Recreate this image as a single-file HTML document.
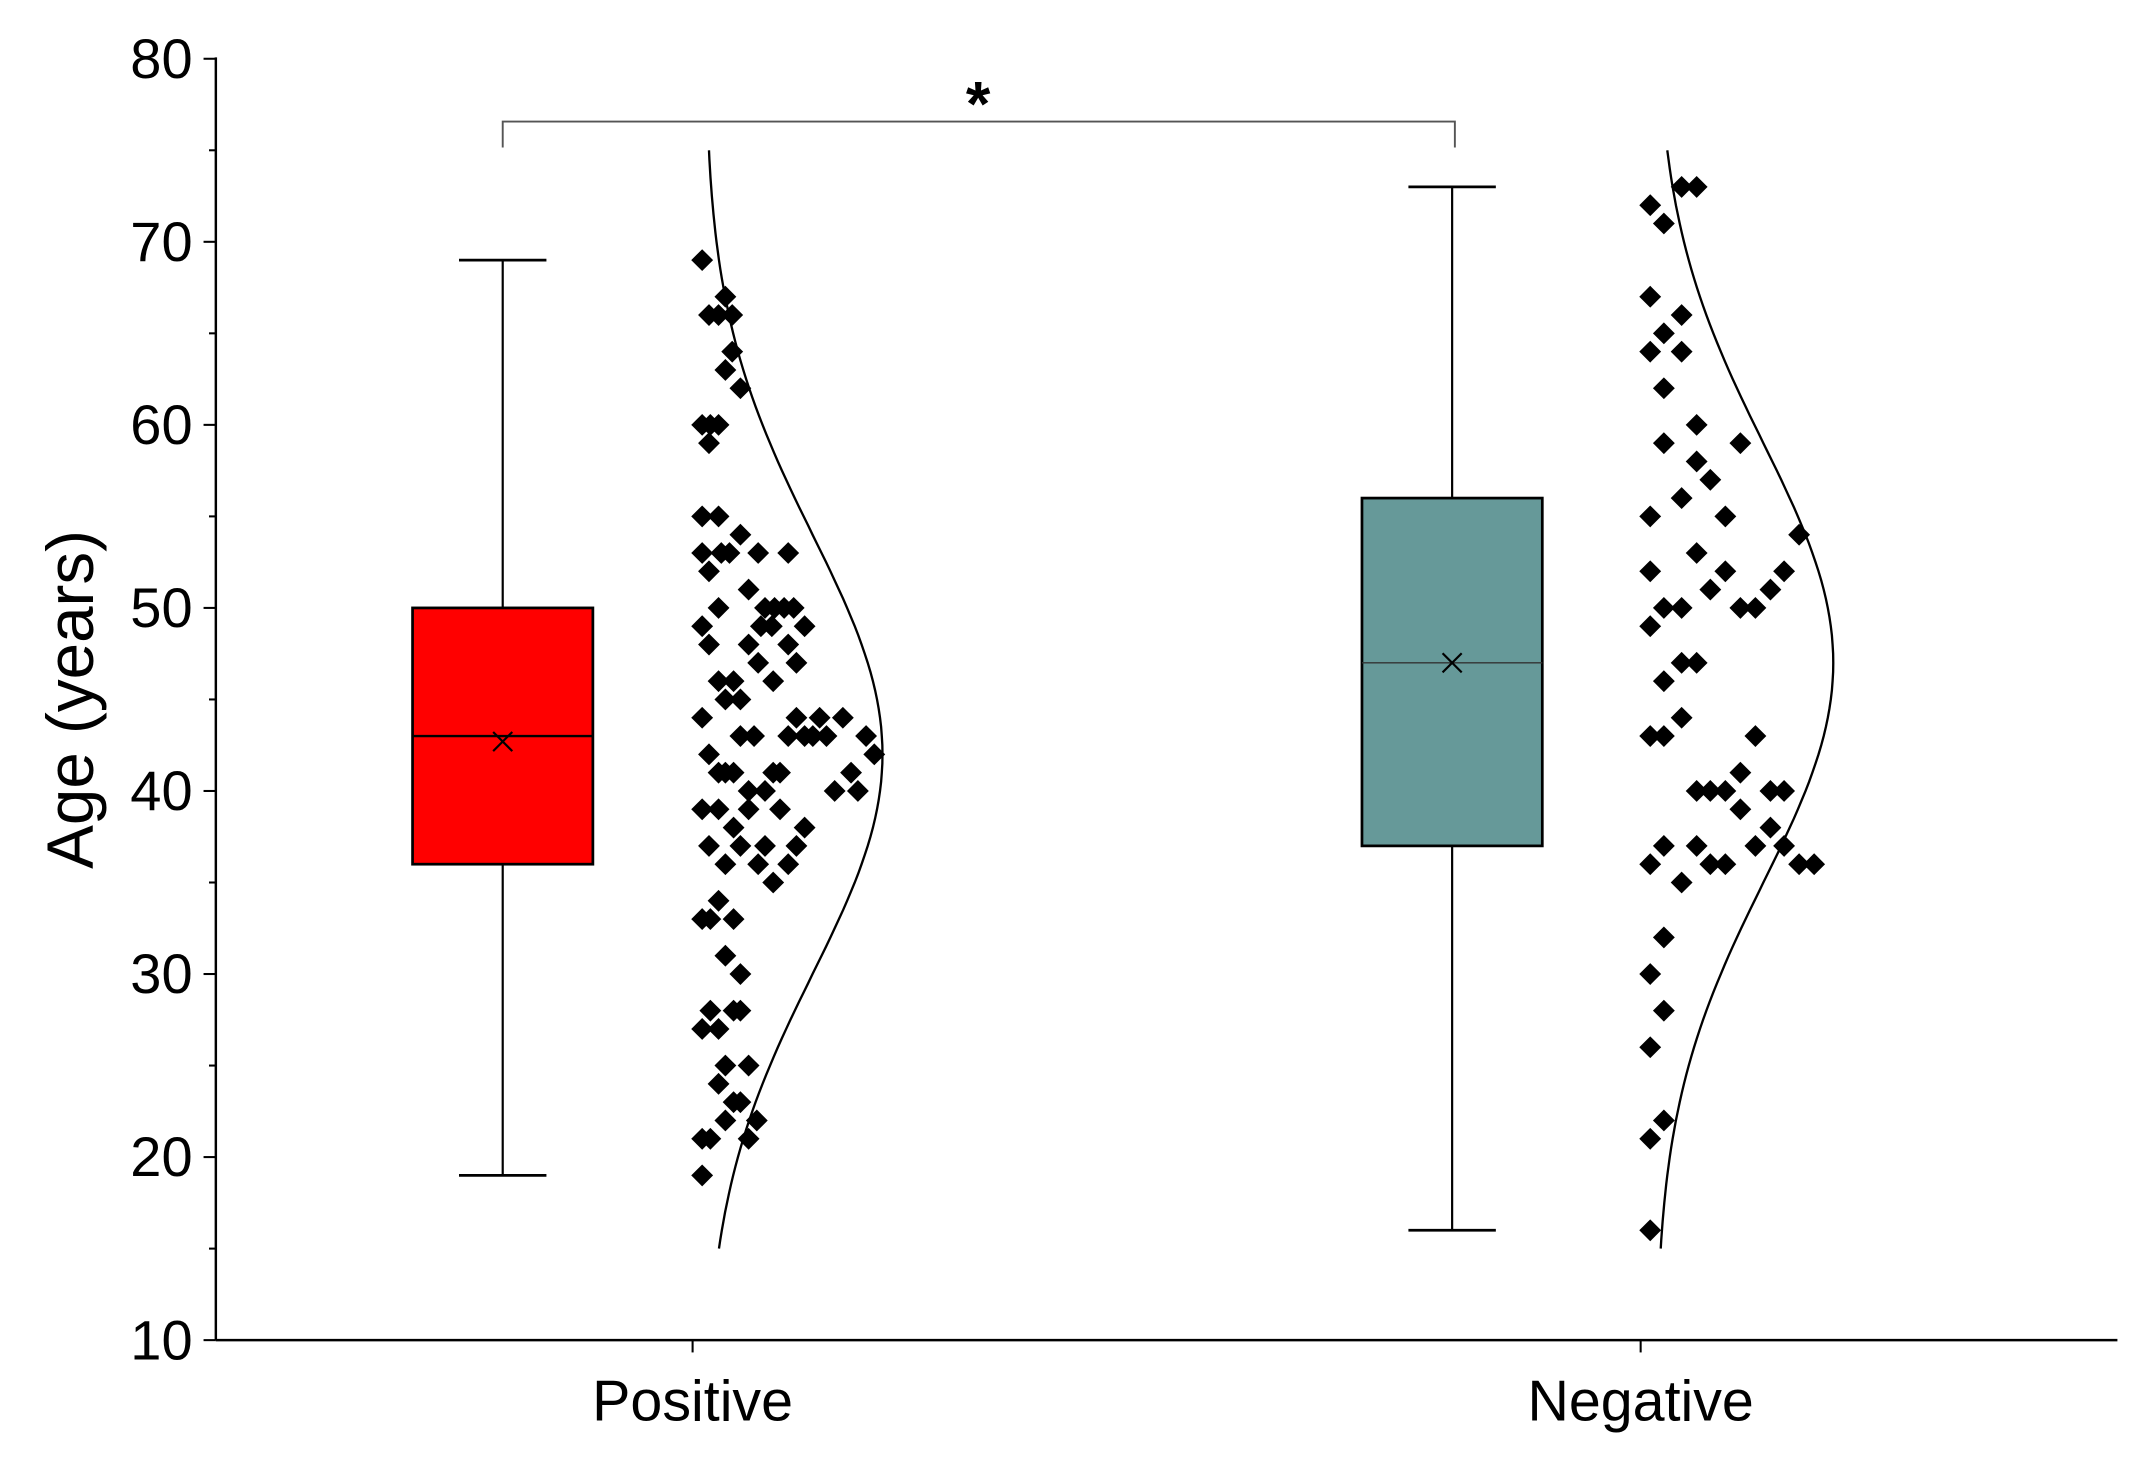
<!DOCTYPE html>
<html><head><meta charset="utf-8"><style>
html,body{margin:0;padding:0;background:#fff}
svg{display:block}
text{font-family:"Liberation Sans",Arial,sans-serif;fill:#000}
</style></head><body>
<svg id="chart" width="2142" height="1459" viewBox="0 0 1568 1068" xmlns="http://www.w3.org/2000/svg">
<g id="axes"></g>
<g id="plot"></g>
<text transform="translate(68,512) rotate(-90)" text-anchor="middle" font-size="48">Age (years)</text>
<text x="716" y="92" text-anchor="middle" font-size="46" font-weight="bold">*</text>
</svg>
<script>
const categories = ["Positive", "Negative"];
const boxQ1 = [36, 37];
const boxMedian = [43, 47];
const boxQ3 = [50, 56];
const boxMean = [42.7, 47];
const whiskerLow = [19, 16];
const whiskerHigh = [69, 73];
const boxColors = ["#ff0000", "#669999"];
const curveMean = [42, 47];
const curveSD = [12, 12];
const yTicks = [10, 20, 30, 40, 50, 60, 70, 80];
const posAges = [69,67,66,66,66,64,63,62,60,60,60,59,55,55,53,53,53,54,53,53,52,51,50,50,50,50,50,49,49,49,49,48,48,48,47,47,46,46,46,45,45,44,44,44,44,43,43,43,43,43,43,43,42,42,41,41,41,41,41,41,40,40,40,40,39,39,39,39,38,38,37,37,37,37,36,36,36,35,34,33,33,33,31,30,28,28,28,27,27,25,25,24,23,23,22,22,21,21,21,19];
const posJitter = [7,24,12,19,29,29,24,35,7,13,19,12,7,19,7,21,27,35,48,70,12,41,19,53,60,67,74,7,50,58,82,12,41,70,48,76,19,30,59,24,35,7,76,93,110,35,45,70,82,88,98,127,12,133,19,30,59,64,116,24,41,53,104,121,7,19,41,64,30,82,12,35,53,76,24,48,70,59,19,7,13,30,24,35,13,30,35,7,19,24,41,19,30,35,47,24,7,13,41,7];
const negAges = [72,71,73,73,67,65,66,64,64,62,60,59,59,58,56,57,55,55,54,53,52,52,52,51,51,50,50,50,50,49,47,47,46,44,43,43,43,41,40,40,40,40,40,39,38,37,37,37,37,36,36,36,36,36,35,32,30,28,26,22,21,16];
const negJitter = [7,17,30,41,7,17,30,7,30,17,41,17,73,41,30,51,7,62,116,41,7,62,105,51,95,17,30,73,84,7,30,41,17,30,7,17,84,73,41,51,62,95,105,73,95,17,41,84,105,7,51,62,116,127,30,17,7,17,7,17,7,7];
const allAges = [posAges, negAges];
const allJitter = [posJitter, negJitter];

const NS = "http://www.w3.org/2000/svg";
const X0 = 158, X1 = 1550, Y10 = 981, Y80 = 43;
const catX = [507, 1201];
const boxX = [368, 1063];
const curveBase = [516, 1212];
const curveAmp = 130;
function y(v){ return Y10 - (v - 10) * (Y10 - Y80) / 70; }
function mk(tag, attrs, parent){
  const e = document.createElementNS(NS, tag);
  for (const k in attrs) e.setAttribute(k, attrs[k]);
  parent.appendChild(e); return e;
}
const axes = document.getElementById('axes');
const plot = document.getElementById('plot');

let a = mk('line',{x1:X0,y1:Y80-1,x2:X0,y2:Y10,stroke:'#000','stroke-width':1.8},axes);


a = mk('line',{x1:X0,y1:Y10,x2:X1,y2:Y10,stroke:'#000','stroke-width':1.8},axes);


for (let v = 10; v <= 80; v += 5) {
  const major = v % 10 === 0;
  const t = mk('line',{x1:X0-(major?9:5),y1:y(v),x2:X0,y2:y(v),stroke:'#000','stroke-width':1.5},axes);
  
  
}
yTicks.forEach(v => {
  const t = mk('text',{x:141,y:y(v)+14,'text-anchor':'end','font-size':41},axes);
  t.textContent = v;
  
  
});
categories.forEach((c,i) => {
  const t = mk('line',{x1:catX[i],y1:Y10,x2:catX[i],y2:Y10+9,stroke:'#000','stroke-width':1.5},axes);
  
  
  const l = mk('text',{x:catX[i],y:1040,'text-anchor':'middle','font-size':42},axes);
  l.textContent = c;
  
  
});

const br = mk('path',{d:`M${boxX[0]},108 V89 H${boxX[1]+2} V108`,fill:'none',stroke:'#555','stroke-width':1.4},plot);



categories.forEach((c,i) => {
  const cx = boxX[i], hw = 66, cw = 32;
  const g = mk('g',{},plot);
  
  
  mk('line',{x1:cx,y1:y(whiskerHigh[i]),x2:cx,y2:y(boxQ3[i]),stroke:'#000','stroke-width':1.6},g);
  mk('line',{x1:cx,y1:y(boxQ1[i]),x2:cx,y2:y(whiskerLow[i]),stroke:'#000','stroke-width':1.6},g);
  mk('line',{x1:cx-cw,y1:y(whiskerHigh[i]),x2:cx+cw,y2:y(whiskerHigh[i]),stroke:'#000','stroke-width':2},g);
  mk('line',{x1:cx-cw,y1:y(whiskerLow[i]),x2:cx+cw,y2:y(whiskerLow[i]),stroke:'#000','stroke-width':2},g);
  mk('rect',{x:cx-hw,y:y(boxQ3[i]),width:hw*2,height:y(boxQ1[i])-y(boxQ3[i]),fill:boxColors[i],stroke:'#000','stroke-width':2},g);
  mk('line',{x1:cx-hw,y1:y(boxMedian[i]),x2:cx+hw,y2:y(boxMedian[i]),stroke:i===0?'#000':'#333','stroke-width':i===0?1.8:1},g);
  const my = y(boxMean[i]), s = 7;
  mk('path',{d:`M${cx-s},${my-s}L${cx+s},${my+s}M${cx+s},${my-s}L${cx-s},${my+s}`,stroke:'#000','stroke-width':1.6},g);

  let d = '';
  for (let v = 15; v <= 75.01; v += 0.5) {
    const px = curveBase[i] + curveAmp * Math.exp(-Math.pow(v - curveMean[i], 2) / (2 * curveSD[i] * curveSD[i]));
    d += (d ? 'L' : 'M') + px.toFixed(1) + ',' + y(v).toFixed(1);
  }
  const cv = mk('path',{d:d,fill:'none',stroke:'#000','stroke-width':1.7},plot);
  
  

  const pg = mk('g',{fill:'#000'},plot);
  
  
  allAges[i].forEach((v,k) => {
    const px = catX[i] + allJitter[i][k], py = y(v), r = 8;
    const p = mk('path',{d:`M${px},${py-r}L${px+r},${py}L${px},${py+r}L${px-r},${py}Z`},pg);
    
    
  });
});
</script>
</body></html>
